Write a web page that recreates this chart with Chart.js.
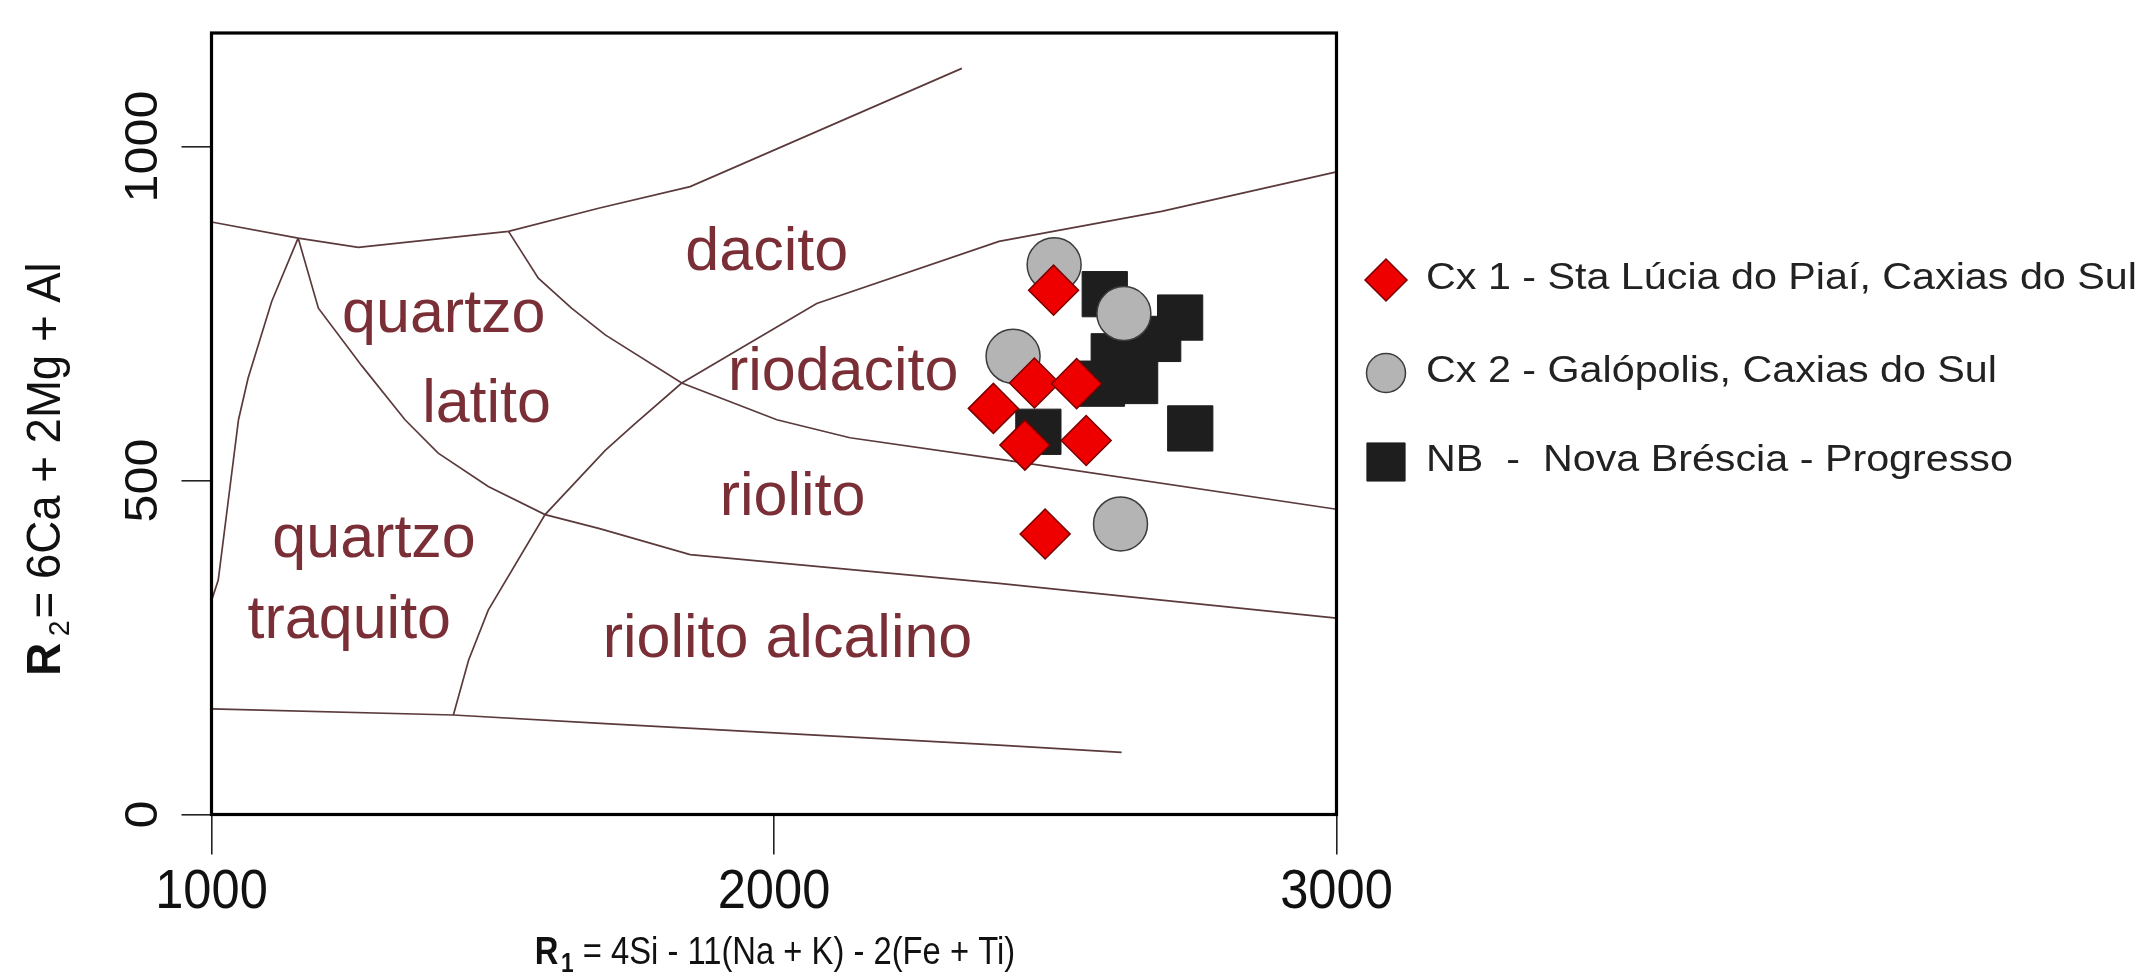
<!DOCTYPE html>
<html>
<head>
<meta charset="utf-8">
<script src="https://cdn.jsdelivr.net/npm/chart.js@4.4.0/dist/chart.umd.min.js"></script>
<style>
  html, body { margin: 0; padding: 0; background: #fff; }
  #meu_graf { width: 2143px; height: 980px; }
</style>
</head>
<body>
<div id="meu_graf"><canvas id="myChart" width="2143" height="980"></canvas></div>
<script>
// amostras: R1 (x) e R2 (y)
const cx1R1 = [2497, 2463, 2538, 2390, 2446, 2555, 2482];
const cx1R2 = [785, 646, 645, 608, 553, 560, 420];
const cx2R1 = [2498, 2622, 2425, 2616];
const cx2R2 = [823, 750, 686, 435];
const nbR1 = [2588, 2722, 2683, 2604, 2642, 2583, 2470, 2740];
const nbR2 = [779, 744, 712, 686, 649, 645, 573, 578];

const seriesNames = [
    'Cx 1 - Sta Lúcia do Piaí, Caxias do Sul',
    'Cx 2 - Galópolis, Caxias do Sul',
    'NB  -  Nova Bréscia - Progresso'
];

const xTicks = [1000, 2000, 3000];
const yTicks = [0, 500, 1000];

// limites dos campos (R1, R2)
const limTopo = [[1000, 887], [1154, 863], [1261, 849], [1528, 873], [1690, 908], [1851, 940], [2334, 1117]];
const limDacito = [[1430, 149], [1457, 231], [1492, 306], [1593, 449], [1700, 545], [1750, 583], [1836, 646], [2076, 765], [2400, 858], [2689, 903], [3000, 962]];
const limRiodacito = [[1528, 873], [1581, 803], [1640, 758], [1700, 718], [1836, 646], [2005, 591], [2135, 564], [2400, 532], [3000, 457]];
const limLatito = [[1154, 863], [1190, 758], [1267, 672], [1344, 591], [1403, 541], [1492, 491], [1593, 449], [1690, 428], [1851, 389], [2400, 346], [3000, 294]];
const limTraquito = [[1154, 863], [1107, 768], [1065, 653], [1048, 591], [1012, 351], [1000, 320]];
const limBase = [[1000, 158], [1430, 149], [1700, 136], [2400, 104], [2618, 93]];

const regionNames = ['dacito', 'quartzo', 'latito', 'riodacito', 'riolito', 'quartzo', 'traquito', 'riolito alcalino'];
const regionR1 = [1987, 1413, 1489, 2123, 2033, 1289, 1245, 2024];
const regionR2 = [815, 722, 588, 636, 449, 386, 264, 236];

const fonte = '"Liberation Sans", Arial, sans-serif';
const corLinha = '#5b3a3c';
const corCampo = '#7a2e36';

function pontos(xs, ys) {
    return xs.map((x, i) => ({x: x, y: ys[i]}));
}
function linha(arr) {
    return {
        data: arr.map(p => ({x: p[0], y: p[1]})),
        showLine: true,
        pointRadius: 0,
        borderColor: corLinha,
        borderWidth: 1.7,
        tension: 0,
        fill: false
    };
}

function textoEsticado(c, txt, x, y, sx) {
    c.save();
    c.translate(x, y);
    c.scale(sx, 1);
    c.fillText(txt, 0, 0);
    c.restore();
}

// desenha varios pedacos de texto em sequencia (com subscrito)
function pedacos(c, partes, x, y, sx, align) {
    let total = 0;
    partes.forEach(p => { c.font = p.font; total += (c.measureText(p.t).width + (p.gap || 0)) * sx; });
    let px = align === 'center' ? x - total / 2 : x;
    c.textAlign = 'left';
    partes.forEach(p => {
        c.font = p.font;
        px += (p.gap || 0) * sx;
        textoEsticado(c, p.t, px, y + (p.dy || 0), sx);
        px += c.measureText(p.t).width * sx;
    });
}

function marca(c, estilo, r, x, y) {
    if (Chart.helpers && Chart.helpers.drawPoint) {
        Chart.helpers.drawPoint(c, {pointStyle: estilo, radius: r, rotation: 0, borderWidth: c.lineWidth}, x, y);
        return;
    }
    c.beginPath();
    if (estilo === 'circle') c.arc(x, y, r, 0, Math.PI * 2);
    else if (estilo === 'rectRot') { c.moveTo(x - r, y); c.lineTo(x, y - r); c.lineTo(x + r, y); c.lineTo(x, y + r); c.closePath(); }
    else { const s = r * Math.SQRT1_2; c.rect(x - s, y - s, 2 * s, 2 * s); }
    c.fill();
    if (c.lineWidth > 0) c.stroke();
}

const textos = {
    id: 'textos_diagrama',
    beforeDatasetsDraw: (chart) => {
        const c = chart.ctx;
        const sx = chart.scales.x, sy = chart.scales.y;
        c.save();
        c.fillStyle = corCampo;
        c.font = '61px ' + fonte;
        c.textAlign = 'center';
        c.textBaseline = 'alphabetic';
        regionNames.forEach((n, i) => {
            c.fillText(n, sx.getPixelForValue(regionR1[i]), sy.getPixelForValue(regionR2[i]));
        });
        c.restore();
    },
    afterDatasetsDraw: (chart) => {
        const c = chart.ctx;
        const a = chart.chartArea;
        const sx = chart.scales.x, sy = chart.scales.y;
        c.save();
        // moldura
        c.strokeStyle = '#000';
        c.lineWidth = 3.2;
        c.strokeRect(a.left, a.top, a.right - a.left, a.bottom - a.top);

        // rotulos do eixo x
        c.fillStyle = '#111';
        c.textBaseline = 'alphabetic';
        c.textAlign = 'center';
        c.font = '55px ' + fonte;
        xTicks.forEach(v => textoEsticado(c, String(v), sx.getPixelForValue(v), 908, 0.92));

        // rotulos do eixo y (girados)
        c.font = '47px ' + fonte;
        yTicks.forEach(v => {
            c.save();
            c.translate(157, sy.getPixelForValue(v));
            c.rotate(-Math.PI / 2);
            textoEsticado(c, String(v), 0, 0, 1.07);
            c.restore();
        });

        // titulo x
        pedacos(c, [
            {t: 'R', font: 'bold 39px ' + fonte},
            {t: '1', font: 'bold 27px ' + fonte, dy: 8, gap: 3},
            {t: ' = 4Si - 11(Na + K) - 2(Fe + Ti)', font: '39px ' + fonte}
        ], (a.left + a.right) / 2 + 1, 964, 0.84, 'center');

        // titulo y
        c.save();
        c.translate(60, 469);
        c.rotate(-Math.PI / 2);
        pedacos(c, [
            {t: 'R', font: 'bold 48px ' + fonte},
            {t: '2', font: '30px ' + fonte, dy: 9, gap: 7},
            {t: '= 6Ca + 2Mg + Al', font: '48px ' + fonte, gap: 2}
        ], 0, 0, 0.95, 'center');
        c.restore();

        // legenda
        const ds = chart.data.datasets;
        const legR = [21, 19.5, 27];
        const legY = [280, 373, 462];
        for (let i = 0; i < 3; i++) {
            c.fillStyle = ds[i].backgroundColor;
            c.strokeStyle = ds[i].borderColor;
            c.lineWidth = ds[i].borderWidth;
            marca(c, ds[i].pointStyle, legR[i], 1386, legY[i]);
            c.fillStyle = '#222';
            c.font = '37px ' + fonte;
            c.textAlign = 'left';
            c.textBaseline = 'middle';
            textoEsticado(c, ds[i].label, 1426, legY[i] - 1, 1.115);
        }
        c.restore();
    }
};

const ctx = document.getElementById('myChart');

const myChart = new Chart(ctx, {
    type: 'scatter',
    data: {
        datasets: [
            {
                label: seriesNames[0],
                data: pontos(cx1R1, cx1R2),
                pointStyle: 'rectRot',
                pointRadius: 25,
                backgroundColor: '#ee0000',
                borderColor: '#7a0000',
                borderWidth: 1.5
            },
            {
                label: seriesNames[1],
                data: pontos(cx2R1, cx2R2),
                pointStyle: 'circle',
                pointRadius: 27,
                backgroundColor: '#b4b4b4',
                borderColor: '#3c3c3c',
                borderWidth: 1.5
            },
            {
                label: seriesNames[2],
                data: pontos(nbR1, nbR2),
                pointStyle: 'rect',
                pointRadius: 32,
                backgroundColor: '#1e1e1e',
                borderColor: '#1e1e1e',
                borderWidth: 1
            },
            linha(limTopo),
            linha(limDacito),
            linha(limRiodacito),
            linha(limLatito),
            linha(limTraquito),
            linha(limBase)
        ]
    },
    options: {
        responsive: false,
        animation: false,
        events: [],
        layout: {
            padding: {top: 33, right: 806.5, left: 0, bottom: 0}
        },
        plugins: {
            legend: {display: false},
            tooltip: {enabled: false}
        },
        scales: {
            x: {
                type: 'linear',
                min: 1000,
                max: 3000,
                afterFit: (s) => { s.height = 165.5; },
                afterBuildTicks: (s) => { s.ticks = xTicks.map(v => ({value: v})); },
                ticks: {display: false},
                border: {display: false},
                grid: {drawOnChartArea: false, drawTicks: true, tickLength: 40, tickColor: '#222', lineWidth: 1.6}
            },
            y: {
                type: 'linear',
                min: 0,
                max: 1170,
                afterFit: (s) => { s.width = 211.5; },
                afterBuildTicks: (s) => { s.ticks = yTicks.map(v => ({value: v})); },
                ticks: {display: false},
                border: {display: false},
                grid: {drawOnChartArea: false, drawTicks: true, tickLength: 30, tickColor: '#222', lineWidth: 1.6}
            }
        }
    },
    plugins: [textos]
});
</script>
</body>
</html>
